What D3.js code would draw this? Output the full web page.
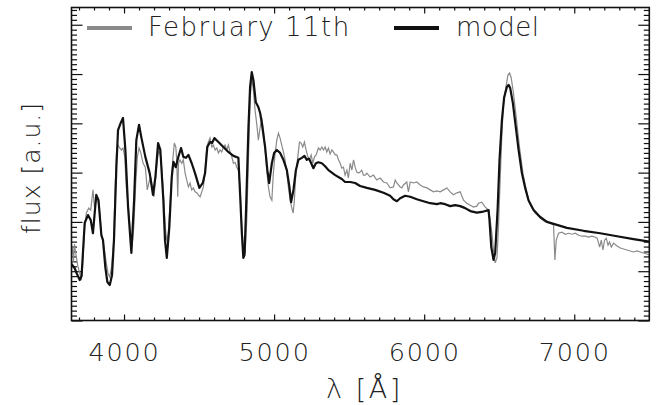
<!DOCTYPE html>
<html>
<head>
<meta charset="utf-8">
<script src="https://cdn.jsdelivr.net/npm/d3@7"></script>
<style>
  body { margin: 0; background: #fff; }
  svg text { font-family: "DejaVu Sans", sans-serif; font-weight: 200; fill: #222; }
</style>
</head>
<body>
<svg id="chart" width="659" height="405"></svg>
<script>
// spectrum of February 11th vs model, flux in arbitrary units

// model spectrum
const modelWave = [3650,3671,3687,3705,3717,3738,3760,3778,3793,3815,3830,3849,3860,3875,3889,3905,3920,3933,3949,3960,
  3978,3993,4009,4027,4049,4067,4082,4100,4115,4142,4171,4193,4209,4227,4242,4262,4273,4285,4302,4318,
  4329,4345,4362,4380,4395,4413,4429,4451,4473,4502,4525,4540,4555,4573,4587,4602,4629,4662,4695,4729,
  4762,4773,4785,4795,4803,4813,4829,4840,4851,4862,4878,4895,4907,4918,4940,4955,4967,4985,5000,5018,
  5040,5062,5085,5102,5113,5129,5145,5162,5185,5202,5218,5233,5247,5262,5278,5295,5318,5340,5362,5407,
  5451,5473,5507,5540,5573,5618,5673,5729,5773,5795,5818,5840,5873,5907,5951,5995,6040,6085,6107,6140,
  6173,6207,6240,6273,6307,6351,6395,6429,6435,6447,6462,6473,6489,6502,6518,6533,6551,6562,6573,6591,
  6607,6629,6651,6673,6695,6729,6773,6818,6862,6907,6951,7062,7173,7285,7395,7500];
const modelFlux = [1.15,1.06,0.94,0.82,0.90,1.98,2.14,2.04,1.77,2.55,2.44,1.73,1.63,1.09,0.78,0.72,0.92,1.63,3.11,3.86,
  4.01,4.11,3.46,2.30,1.37,2.44,3.66,3.97,3.72,3.32,2.99,2.55,2.91,3.60,3.46,2.44,1.63,1.27,1.90,2.91,
  3.22,3.11,3.32,3.50,3.32,3.30,3.36,3.19,2.99,2.69,2.79,2.99,3.52,3.62,3.60,3.70,3.62,3.52,3.42,3.34,
  3.30,2.59,1.77,1.27,1.33,2.24,3.92,4.74,5.04,4.88,4.43,4.33,4.21,4.01,3.52,3.05,2.79,3.19,3.40,3.46,
  3.40,3.26,3.05,2.71,2.40,2.65,3.05,3.26,3.30,3.34,3.26,3.28,3.19,3.09,3.19,3.21,3.19,3.13,3.05,2.95,
  2.87,2.81,2.81,2.79,2.73,2.69,2.65,2.59,2.53,2.46,2.42,2.48,2.53,2.51,2.46,2.42,2.38,2.36,2.38,2.36,
  2.32,2.34,2.32,2.28,2.22,2.19,2.21,2.24,2.04,1.49,1.23,1.37,2.24,3.26,4.07,4.53,4.74,4.78,4.72,4.41,
  4.01,3.46,2.99,2.69,2.44,2.24,2.10,2.00,1.96,1.92,1.88,1.82,1.77,1.71,1.65,1.60];

// observed spectrum, February 11th
const obsWave = [3650,3657,3663,3670,3677,3683,3693,3705,3715,3723,3738,3749,3765,3778,3793,3803,3822,3837,3849,3867,
  3882,3893,3905,3917,3930,3942,3951,3960,3971,3982,3993,4005,4015,4031,4045,4053,4065,4078,4089,4100,
  4111,4127,4142,4155,4167,4178,4189,4200,4211,4222,4231,4245,4260,4275,4285,4295,4311,4325,4335,4345,
  4351,4358,4363,4373,4385,4395,4407,4418,4429,4440,4451,4462,4473,4485,4495,4507,4518,4529,4540,4551,
  4562,4573,4585,4595,4607,4618,4629,4640,4651,4662,4673,4685,4695,4707,4718,4729,4740,4751,4762,4773,
  4785,4795,4807,4818,4829,4840,4851,4862,4873,4885,4895,4907,4918,4929,4940,4951,4962,4973,4985,4995,
  5007,5018,5029,5040,5051,5062,5073,5085,5095,5107,5118,5127,5135,5145,5158,5169,5180,5191,5202,5213,
  5225,5235,5247,5258,5269,5280,5295,5307,5318,5329,5340,5351,5362,5373,5385,5395,5407,5418,5429,5440,
  5451,5462,5473,5485,5495,5507,5518,5529,5540,5551,5562,5573,5584,5595,5607,5618,5640,5662,5684,5707,
  5729,5751,5773,5795,5807,5818,5840,5851,5862,5884,5895,5907,5929,5951,5973,5995,6018,6040,6062,6085,
  6107,6129,6151,6173,6195,6218,6240,6262,6284,6307,6329,6351,6362,6384,6407,6429,6440,6451,6462,6473,
  6485,6495,6507,6518,6529,6545,6558,6569,6580,6595,6613,6635,6658,6680,6702,6720,6740,6773,6807,6840,
  6862,6871,6880,6895,6918,6940,6962,6985,7007,7029,7051,7073,7095,7118,7140,7153,7169,7180,7191,7202,
  7213,7225,7235,7247,7262,7285,7307,7329,7351,7373,7395,7418,7440,7462,7484,7500];
const obsFlux = [1.33,1.49,1.19,1.55,1.39,1.27,1.09,0.96,0.82,1.06,1.90,2.18,2.28,2.24,2.65,2.30,2.51,2.24,1.77,1.49,
  1.17,0.96,0.88,1.09,1.57,2.79,3.46,3.56,3.50,3.46,3.50,3.32,2.71,2.24,1.63,1.49,1.90,2.79,3.32,3.50,
  3.41,3.19,3.11,2.65,2.81,2.91,2.71,2.51,2.91,3.26,3.46,3.32,2.71,1.90,1.61,1.77,2.59,3.26,3.60,3.52,
  3.26,2.51,3.19,3.26,3.19,3.26,2.99,2.85,2.71,2.79,2.65,2.69,2.61,2.59,2.55,2.51,2.61,2.71,3.05,3.52,
  3.62,3.70,3.52,3.56,3.46,3.50,3.40,3.46,3.42,3.52,3.56,3.46,3.56,3.42,3.32,3.19,3.21,3.11,3.05,2.71,
  1.90,1.49,1.37,2.04,3.26,4.47,4.94,4.67,4.27,3.97,3.66,3.92,4.11,3.86,3.46,3.05,2.71,2.51,2.44,2.99,
  3.40,3.66,3.80,3.70,3.56,3.42,3.26,2.99,2.71,2.44,2.28,2.18,2.44,2.99,3.32,3.62,3.60,3.52,3.62,3.46,
  3.32,3.26,3.36,3.19,3.32,3.36,3.50,3.46,3.52,3.46,3.52,3.42,3.50,3.38,3.46,3.42,3.36,3.36,3.26,3.19,
  3.09,3.11,2.95,3.05,2.89,3.19,3.05,3.26,3.11,3.01,2.99,3.01,3.05,2.95,2.95,2.99,2.91,2.95,2.85,2.89,
  2.81,2.79,2.69,2.71,2.85,2.79,2.71,2.69,2.75,2.81,2.61,2.81,2.79,2.81,2.75,2.71,2.69,2.65,2.61,2.63,
  2.61,2.65,2.69,2.61,2.55,2.59,2.61,2.44,2.38,2.34,2.30,2.32,2.38,2.40,2.30,2.24,2.04,1.77,1.43,1.17,
  1.27,1.90,2.91,3.80,4.41,4.74,4.98,5.02,4.92,4.61,4.13,3.52,2.99,2.65,2.38,2.28,2.18,2.08,2.00,1.98,
  1.94,1.23,1.63,1.77,1.79,1.75,1.77,1.75,1.77,1.73,1.71,1.71,1.69,1.71,1.69,1.67,1.49,1.63,1.43,1.63,
  1.67,1.53,1.59,1.49,1.57,1.51,1.47,1.45,1.43,1.41,1.39,1.41,1.39,1.37,1.35,1.33];

const xTicks = [4000, 5000, 6000, 7000];
const legendLabels = ["February 11th", "model"];

const svg = d3.select("#chart");
const pL = 71.5, pR = 649.3, pT = 7.5, pB = 320.5;

const x = d3.scaleLinear().domain([3650, 7500]).range([pL, pR]);
const y = d3.scaleLinear().domain([0, 6.35]).range([pB, pT]);

const ink = "#111";
const grey = "#8a8a8a";

// clip so spectra stay inside the frame
svg.append("defs").append("clipPath").attr("id", "plotclip")
  .append("rect").attr("x", pL).attr("y", pT)
  .attr("width", pR - pL).attr("height", pB - pT);

const minorX = d3.range(3700, 7500, 100).filter(v => v % 1000 !== 0);
const majorY = d3.range(0, 7, 1);
const minorY = d3.range(0, 64, 1).filter(v => v % 10 !== 0).map(v => v / 10).filter(v => v <= 6.35);

function tickAxis(axis, vals, size, pad, fmt) {
  return axis.tickValues(vals).tickSize(-size).tickPadding(pad).tickFormat(fmt);
}

// bottom axis with labels
const gB = svg.append("g").attr("transform", `translate(0,${pB})`)
  .call(tickAxis(d3.axisBottom(x), xTicks, 6, 22, d3.format("d")));
svg.append("g").attr("transform", `translate(0,${pB})`)
  .call(tickAxis(d3.axisBottom(x), minorX, 3, 0, ""));
// top mirror
svg.append("g").attr("transform", `translate(0,${pT})`)
  .call(tickAxis(d3.axisTop(x), xTicks, 6, 0, ""));
svg.append("g").attr("transform", `translate(0,${pT})`)
  .call(tickAxis(d3.axisTop(x), minorX, 3, 0, ""));
// left / right, no labels
svg.append("g").attr("transform", `translate(${pL},0)`)
  .call(tickAxis(d3.axisLeft(y), majorY, 11, 0, ""));
svg.append("g").attr("transform", `translate(${pL},0)`)
  .call(tickAxis(d3.axisLeft(y), minorY, 5.5, 0, ""));
svg.append("g").attr("transform", `translate(${pR},0)`)
  .call(tickAxis(d3.axisRight(y), majorY, 11, 0, ""));
svg.append("g").attr("transform", `translate(${pR},0)`)
  .call(tickAxis(d3.axisRight(y), minorY, 5.5, 0, ""));

svg.selectAll(".domain").remove();
svg.selectAll(".tick line").attr("stroke", ink).attr("stroke-width", 1.2);
gB.selectAll(".tick text").attr("font-size", 25.5).attr("letter-spacing", 1.8)
  .style("fill", "#222");

// spectra
const line = d3.line().x(d => x(d[0])).y(d => y(d[1]));
const plot = svg.append("g").attr("clip-path", "url(#plotclip)");
plot.append("path")
  .datum(d3.zip(obsWave, obsFlux))
  .attr("fill", "none").attr("stroke", grey).attr("stroke-width", 1.2)
  .attr("d", line);
plot.append("path")
  .datum(d3.zip(modelWave, modelFlux))
  .attr("fill", "none").attr("stroke", ink).attr("stroke-width", 2.2)
  .attr("stroke-linejoin", "round")
  .attr("d", line);

// frame
svg.append("rect").attr("x", pL).attr("y", pT)
  .attr("width", pR - pL).attr("height", pB - pT)
  .attr("fill", "none").attr("stroke", ink).attr("stroke-width", 1.6);

// legend
const legend = [
  { label: legendLabels[0], color: grey, x0: 87, tx: 148, ls: 1.5 },
  { label: legendLabels[1], color: ink, x0: 394, tx: 456, ls: 0.5 }
];
legend.forEach(l => {
  svg.append("line").attr("x1", l.x0).attr("x2", l.x0 + 45)
    .attr("y1", 28).attr("y2", 28)
    .attr("stroke", l.color).attr("stroke-width", 4);
  svg.append("text").attr("x", l.tx).attr("y", 36)
    .attr("font-size", 26).attr("letter-spacing", l.ls)
    .text(l.label);
});

// axis titles
svg.append("text").attr("x", (pL + pR) / 2 + 4).attr("y", 398)
  .attr("text-anchor", "middle").attr("font-size", 27).attr("letter-spacing", 2.5)
  .text("λ [Å]");
svg.append("text")
  .attr("transform", `translate(40,${(pT + pB) / 2 + 4}) rotate(-90)`)
  .attr("text-anchor", "middle").attr("font-size", 25).attr("letter-spacing", 1)
  .text("flux [a.u.]");
</script>
</body>
</html>
